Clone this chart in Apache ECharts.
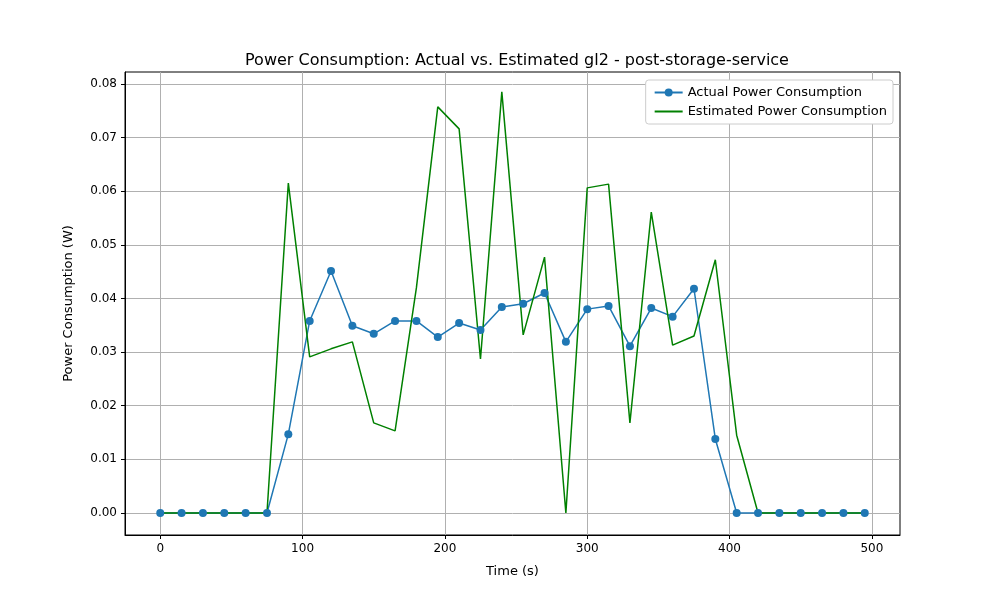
<!DOCTYPE html>
<html>
<head>
<meta charset="utf-8">
<script src="https://cdn.jsdelivr.net/npm/echarts@6/dist/echarts.min.js"></script>
<style>html,body{margin:0;padding:0;background:#fff}#chart{width:1000px;height:600px}</style>
</head>
<body>
<div id="chart"></div>
<script>
var times = [0,15,30,45,60,75,90,105,120,135,150,165,180,195,210,225,240,255,270,285,300,315,330,345,360,375,390,405,420,435,450,465,480,495];
var actual = [0,0,0,0,0,0,0.0147,0.0358,0.0451,0.0349,0.0334,0.0358,0.0358,0.0328,0.0354,0.0341,0.0384,0.0390,0.0410,0.0319,0.0380,0.0386,0.0311,0.0382,0.0366,0.0418,0.0138,0,0,0,0,0,0,0];
var estimated = [0,0,0,0,0,0,0.0615,0.0291,0.0306,0.0319,0.0168,0.0153,0.042,0.0757,0.0716,0.0287,0.0785,0.0332,0.0477,0,0.0606,0.0613,0.0168,0.0561,0.0313,0.0330,0.0472,0.0145,0,0,0,0,0,0,0];
var xTicks = [0,100,200,300,400,500];
var yTicks = [0,0.01,0.02,0.03,0.04,0.05,0.06,0.07,0.08];

var chart = echarts.init(document.getElementById('chart'));
var font = 'DejaVu Sans';
var option = {
    animation: false,
    title: {
        text: 'Power Consumption: Actual vs. Estimated gl2 - post-storage-service',
        left: 512, top: 48, textAlign: 'center',
        textStyle: {fontFamily: font, fontSize: 16, fontWeight: 'normal', color: '#000'}
    },
    legend: {
        right: 107, top: 80, orient: 'vertical', itemGap: 6,
        backgroundColor: '#fff', borderColor: '#ccc', borderWidth: 1, borderRadius: 3,
        padding: [6, 6, 6, 8], itemWidth: 28, itemHeight: 10,
        textStyle: {fontFamily: font, fontSize: 13, color: '#000'},
        data: [
            {name: 'Actual Power Consumption'},
            {name: 'Estimated Power Consumption', itemStyle: {opacity: 0}}
        ]
    },
    grid: {left: 125, right: 100, top: 72, bottom: 65, show: true, borderColor: '#000', borderWidth: 1},
    xAxis: {
        type: 'value', min: -24.75, max: 519.75,
        name: 'Time (s)', nameLocation: 'middle', nameGap: 30,
        nameTextStyle: {fontFamily: font, fontSize: 13, color: '#000'},
        axisLine: {onZero: false, lineStyle: {color: '#000'}},
        axisTick: {show: true, customValues: xTicks, length: 4, lineStyle: {color: '#000'}},
        axisLabel: {customValues: xTicks, fontFamily: font, fontSize: 12, color: '#000'},
        splitLine: {show: true, lineStyle: {color: '#b0b0b0'}}
    },
    yAxis: {
        type: 'value', min: -0.0041, max: 0.0822,
        name: 'Power Consumption (W)', nameLocation: 'middle', nameGap: 50,
        nameTextStyle: {fontFamily: font, fontSize: 13, color: '#000'},
        axisLine: {show: true, onZero: false, lineStyle: {color: '#000'}},
        axisTick: {show: true, customValues: yTicks, length: 4, lineStyle: {color: '#000'}},
        axisLabel: {customValues: yTicks, fontFamily: font, fontSize: 12, color: '#000',
            formatter: function (v) { return v.toFixed(2); }},
        splitLine: {show: true, lineStyle: {color: '#b0b0b0'}}
    },
    series: [
        {
            name: 'Actual Power Consumption', type: 'line',
            data: times.map(function (t, i) { return [t, actual[i]]; }),
            symbol: 'circle', symbolSize: 8, showAllSymbol: true,
            itemStyle: {color: '#1f77b4'}, lineStyle: {color: '#1f77b4', width: 1.5}
        },
        {
            name: 'Estimated Power Consumption', type: 'line',
            data: times.map(function (t, i) { return [t, estimated[i]]; }),
            symbol: 'none', itemStyle: {color: '#008000'}, lineStyle: {color: '#008000', width: 1.5}
        }
    ]
};
chart.setOption(option);
</script>
</body>
</html>
